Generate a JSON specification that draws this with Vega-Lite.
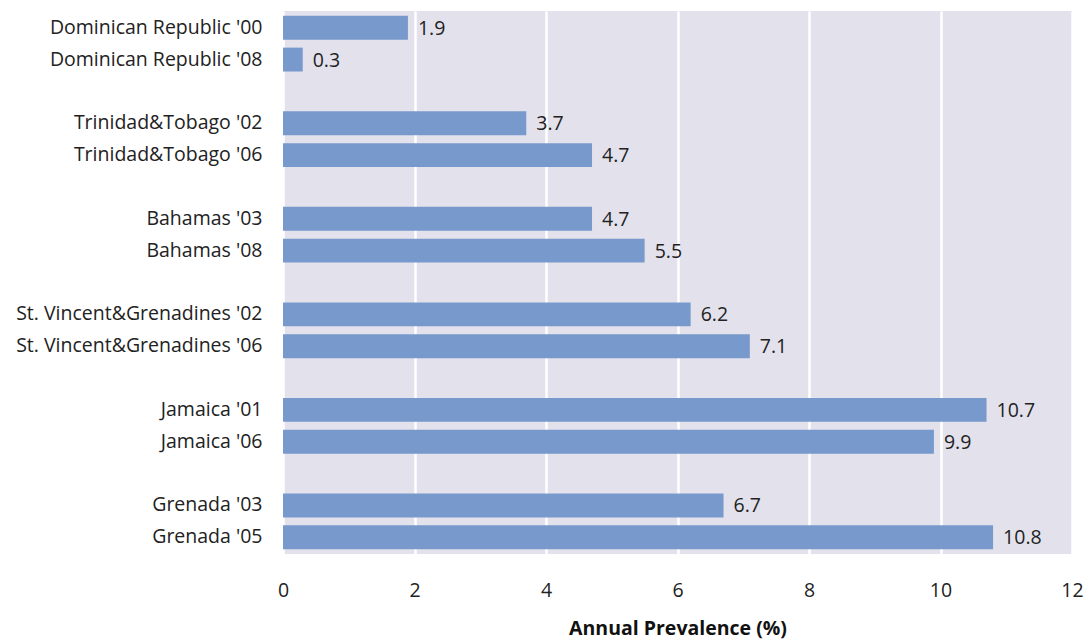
{
  "$schema": "https://vega.github.io/schema/vega-lite/v6.json",
  "autosize": "none",
  "width": 789,
  "height": 543,
  "padding": {"left": 283, "top": 11, "right": 15, "bottom": 87},
  "background": "white",
  "config": {
    "view": {"fill": "#e3e2ec", "stroke": null},
    "font": "Open Sans"
  },
  "data": {
    "values": [
      {"label": "Dominican Republic '00", "value": 1.9},
      {"label": "Dominican Republic '08", "value": 0.3},
      {"label": "Trinidad&Tobago '02", "value": 3.7},
      {"label": "Trinidad&Tobago '06", "value": 4.7},
      {"label": "Bahamas '03", "value": 4.7},
      {"label": "Bahamas '08", "value": 5.5},
      {"label": "St. Vincent&Grenadines '02", "value": 6.2},
      {"label": "St. Vincent&Grenadines '06", "value": 7.1},
      {"label": "Jamaica '01", "value": 10.7},
      {"label": "Jamaica '06", "value": 9.9},
      {"label": "Grenada '03", "value": 6.7},
      {"label": "Grenada '05", "value": 10.8}
    ]
  },
  "encoding": {
    "y": {
      "field": "label",
      "type": "nominal",
      "scale": {
        "domain": ["Dominican Republic '00", "Dominican Republic '08", "gap1", "Trinidad&Tobago '02", "Trinidad&Tobago '06", "gap2", "Bahamas '03", "Bahamas '08", "gap3", "St. Vincent&Grenadines '02", "St. Vincent&Grenadines '06", "gap4", "Jamaica '01", "Jamaica '06", "gap5", "Grenada '03", "Grenada '05"],
        "paddingInner": 0.25,
        "paddingOuter": 0.15
      },
      "axis": {
        "title": null,
        "labelExpr": "indexof(datum.value, 'gap') == 0 ? '' : datum.value",
        "labelLimit": 400,
        "ticks": false,
        "domain": false,
        "labelPadding": 21,
        "labelFontSize": 19.5,
        "labelColor": "#222222",
        "grid": false
      }
    },
    "x": {
      "field": "value",
      "type": "quantitative",
      "scale": {"domain": [0, 12], "nice": false},
      "axis": {
        "values": [0, 2, 4, 6, 8, 10, 12],
        "title": "Annual Prevalence (%)",
        "titleFontSize": 19.5,
        "titleFontWeight": "bold",
        "titleColor": "#111111",
        "titlePadding": 20,
        "ticks": false,
        "domain": false,
        "labelFlush": false,
        "labelPadding": 27,
        "labelFontSize": 19.5,
        "labelColor": "#222222",
        "grid": true,
        "gridColor": "white",
        "gridWidth": 2.5,
        "gridOpacity": 1
      }
    }
  },
  "layer": [
    {"mark": {"type": "bar", "color": "#7799cb"}},
    {
      "mark": {"type": "text", "align": "left", "baseline": "middle", "dx": 10, "dy": 1, "fontSize": 19.5, "color": "#222222"},
      "encoding": {"text": {"field": "value", "type": "quantitative", "format": ".1f"}}
    }
  ]
}
